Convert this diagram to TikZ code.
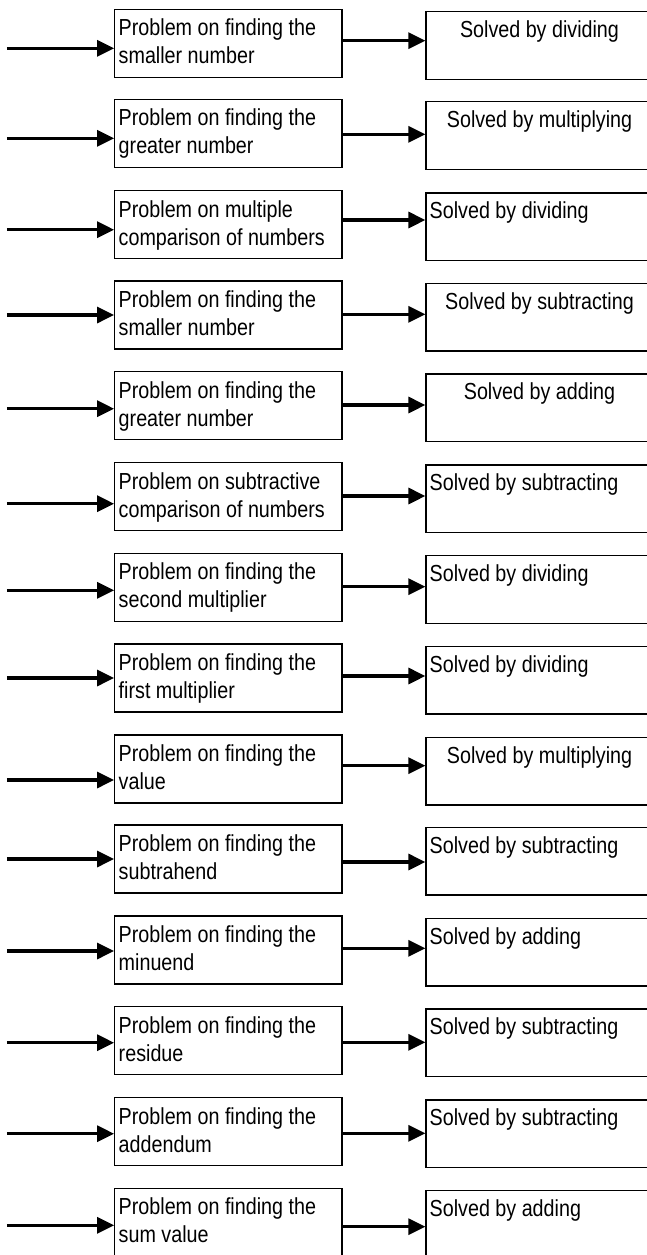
\documentclass[tikz,border=0pt]{standalone}
\usepackage{fontspec}
\setmainfont{Liberation Sans}[FakeStretch=0.85]
\usetikzlibrary{arrows.meta, positioning, calc}

\begin{document}
\begin{tikzpicture}[
    problem/.style={rectangle, draw, line width=0.7pt, minimum width=4.546cm, minimum height=1.36cm, inner sep=0pt},
    solution/.style={rectangle, draw, line width=0.7pt, minimum width=4.54cm, minimum height=1.354cm, inner sep=0pt},
    ptext/.style={anchor=north west, inner sep=0pt, align=left, font=\fontsize{13.2pt}{15.9pt}\selectfont},
    stext/.style={inner sep=0pt, font=\fontsize{13.2pt}{15.9pt}\selectfont},
    arrow/.style={line width=1.8pt, -{Triangle[length=0.34cm, width=0.32cm]}}
]
\useasboundingbox (0,0) rectangle (12.92,-25.1);

% Problem boxes
\node[problem] (lb1) at (4.567, -0.866) {};
\node[problem] (lb2) at (4.567, -2.666) {};
\node[problem] (lb3) at (4.567, -4.494) {};
\node[problem] (lb4) at (4.567, -6.300) {};
\node[problem] (lb5) at (4.567, -8.114) {};
\node[problem] (lb6) at (4.567, -9.934) {};
\node[problem] (lb7) at (4.567, -11.746) {};
\node[problem] (lb8) at (4.567, -13.560) {};
\node[problem] (lb9) at (4.567, -15.380) {};
\node[problem] (lb10) at (4.567, -17.180) {};
\node[problem] (lb11) at (4.567, -19.000) {};
\node[problem] (lb12) at (4.567, -20.814) {};
\node[problem] (lb13) at (4.567, -22.634) {};
\node[problem] (lb14) at (4.567, -24.446) {};

% Problem texts
\node[ptext] (lt1) at ([xshift=0.086cm, yshift=-0.142cm] lb1.north west) {\strut Problem on finding the\\smaller number\strut};
\node[ptext] (lt2) at ([xshift=0.086cm, yshift=-0.142cm] lb2.north west) {\strut Problem on finding the\\greater number\strut};
\node[ptext] (lt3) at ([xshift=0.086cm, yshift=-0.142cm] lb3.north west) {\strut Problem on multiple\\comparison of numbers\strut};
\node[ptext] (lt4) at ([xshift=0.086cm, yshift=-0.142cm] lb4.north west) {\strut Problem on finding the\\smaller number\strut};
\node[ptext] (lt5) at ([xshift=0.086cm, yshift=-0.142cm] lb5.north west) {\strut Problem on finding the\\greater number\strut};
\node[ptext] (lt6) at ([xshift=0.086cm, yshift=-0.142cm] lb6.north west) {\strut Problem on subtractive\\comparison of numbers\strut};
\node[ptext] (lt7) at ([xshift=0.086cm, yshift=-0.142cm] lb7.north west) {\strut Problem on finding the\\second multiplier\strut};
\node[ptext] (lt8) at ([xshift=0.086cm, yshift=-0.142cm] lb8.north west) {\strut Problem on finding the\\first multiplier\strut};
\node[ptext] (lt9) at ([xshift=0.086cm, yshift=-0.142cm] lb9.north west) {\strut Problem on finding the\\value\strut};
\node[ptext] (lt10) at ([xshift=0.086cm, yshift=-0.142cm] lb10.north west) {\strut Problem on finding the\\subtrahend\strut};
\node[ptext] (lt11) at ([xshift=0.086cm, yshift=-0.142cm] lb11.north west) {\strut Problem on finding the\\minuend\strut};
\node[ptext] (lt12) at ([xshift=0.086cm, yshift=-0.142cm] lb12.north west) {\strut Problem on finding the\\residue\strut};
\node[ptext] (lt13) at ([xshift=0.086cm, yshift=-0.142cm] lb13.north west) {\strut Problem on finding the\\addendum\strut};
\node[ptext] (lt14) at ([xshift=0.086cm, yshift=-0.142cm] lb14.north west) {\strut Problem on finding the\\sum value\strut};

% Solution boxes
\node[solution] (rb1) at (10.79, -0.909) {};
\node[solution] (rb2) at (10.79, -2.709) {};
\node[solution] (rb3) at (10.79, -4.537) {};
\node[solution] (rb4) at (10.79, -6.343) {};
\node[solution] (rb5) at (10.79, -8.157) {};
\node[solution] (rb6) at (10.79, -9.977) {};
\node[solution] (rb7) at (10.79, -11.789) {};
\node[solution] (rb8) at (10.79, -13.603) {};
\node[solution] (rb9) at (10.79, -15.423) {};
\node[solution] (rb10) at (10.79, -17.223) {};
\node[solution] (rb11) at (10.79, -19.043) {};
\node[solution] (rb12) at (10.79, -20.857) {};
\node[solution] (rb13) at (10.79, -22.677) {};
\node[solution] (rb14) at (10.79, -24.489) {};

% Solution texts
\node[stext, anchor=base] (rt1) at ([yshift=-0.53cm] rb1.north) {Solved by dividing};
\node[stext, anchor=base] (rt2) at ([yshift=-0.53cm] rb2.north) {Solved by multiplying};
\node[stext, anchor=base west] (rt3) at ([xshift=0.08cm, yshift=-0.53cm] rb3.north west) {Solved by dividing};
\node[stext, anchor=base] (rt4) at ([yshift=-0.53cm] rb4.north) {Solved by subtracting};
\node[stext, anchor=base] (rt5) at ([yshift=-0.53cm] rb5.north) {Solved by adding};
\node[stext, anchor=base west] (rt6) at ([xshift=0.08cm, yshift=-0.53cm] rb6.north west) {Solved by subtracting};
\node[stext, anchor=base west] (rt7) at ([xshift=0.08cm, yshift=-0.53cm] rb7.north west) {Solved by dividing};
\node[stext, anchor=base west] (rt8) at ([xshift=0.08cm, yshift=-0.53cm] rb8.north west) {Solved by dividing};
\node[stext, anchor=base] (rt9) at ([yshift=-0.53cm] rb9.north) {Solved by multiplying};
\node[stext, anchor=base west] (rt10) at ([xshift=0.08cm, yshift=-0.53cm] rb10.north west) {Solved by subtracting};
\node[stext, anchor=base west] (rt11) at ([xshift=0.08cm, yshift=-0.53cm] rb11.north west) {Solved by adding};
\node[stext, anchor=base west] (rt12) at ([xshift=0.08cm, yshift=-0.53cm] rb12.north west) {Solved by subtracting};
\node[stext, anchor=base west] (rt13) at ([xshift=0.08cm, yshift=-0.53cm] rb13.north west) {Solved by subtracting};
\node[stext, anchor=base west] (rt14) at ([xshift=0.08cm, yshift=-0.53cm] rb14.north west) {Solved by adding};

% Incoming arrow starts
\coordinate (in1) at (0.14, -0.966);
\coordinate (in2) at (0.14, -2.766);
\coordinate (in3) at (0.14, -4.594);
\coordinate (in4) at (0.14, -6.300);
\coordinate (in5) at (0.14, -8.174);
\coordinate (in6) at (0.14, -10.074);
\coordinate (in7) at (0.14, -11.806);
\coordinate (in8) at (0.14, -13.560);
\coordinate (in9) at (0.14, -15.600);
\coordinate (in10) at (0.14, -17.180);
\coordinate (in11) at (0.14, -19.020);
\coordinate (in12) at (0.14, -20.854);
\coordinate (in13) at (0.14, -22.674);
\coordinate (in14) at (0.14, -24.506);

% Levels of the middle arrows
\coordinate (m1) at (7.6, -0.814);
\coordinate (m2) at (7.6, -2.686);
\coordinate (m3) at (7.6, -4.400);
\coordinate (m4) at (7.6, -6.286);
\coordinate (m5) at (7.6, -8.100);
\coordinate (m6) at (7.6, -9.920);
\coordinate (m7) at (7.6, -11.734);
\coordinate (m8) at (7.6, -13.520);
\coordinate (m9) at (7.6, -15.314);
\coordinate (m10) at (7.6, -17.240);
\coordinate (m11) at (7.6, -18.966);
\coordinate (m12) at (7.6, -20.846);
\coordinate (m13) at (7.6, -22.666);
\coordinate (m14) at (7.6, -24.534);

% Connections
\draw[arrow] (in1) -- (in1 -| lb1.west);
\draw[arrow] (in2) -- (in2 -| lb2.west);
\draw[arrow] (in3) -- (in3 -| lb3.west);
\draw[arrow] (in4) -- (in4 -| lb4.west);
\draw[arrow] (in5) -- (in5 -| lb5.west);
\draw[arrow] (in6) -- (in6 -| lb6.west);
\draw[arrow] (in7) -- (in7 -| lb7.west);
\draw[arrow] (in8) -- (in8 -| lb8.west);
\draw[arrow] (in9) -- (in9 -| lb9.west);
\draw[arrow] (in10) -- (in10 -| lb10.west);
\draw[arrow] (in11) -- (in11 -| lb11.west);
\draw[arrow] (in12) -- (in12 -| lb12.west);
\draw[arrow] (in13) -- (in13 -| lb13.west);
\draw[arrow] (in14) -- (in14 -| lb14.west);

\draw[arrow] (lb1.east |- m1) -- (rb1.west |- m1);
\draw[arrow] (lb2.east |- m2) -- (rb2.west |- m2);
\draw[arrow] (lb3.east |- m3) -- (rb3.west |- m3);
\draw[arrow] (lb4.east |- m4) -- (rb4.west |- m4);
\draw[arrow] (lb5.east |- m5) -- (rb5.west |- m5);
\draw[arrow] (lb6.east |- m6) -- (rb6.west |- m6);
\draw[arrow] (lb7.east |- m7) -- (rb7.west |- m7);
\draw[arrow] (lb8.east |- m8) -- (rb8.west |- m8);
\draw[arrow] (lb9.east |- m9) -- (rb9.west |- m9);
\draw[arrow] (lb10.east |- m10) -- (rb10.west |- m10);
\draw[arrow] (lb11.east |- m11) -- (rb11.west |- m11);
\draw[arrow] (lb12.east |- m12) -- (rb12.west |- m12);
\draw[arrow] (lb13.east |- m13) -- (rb13.west |- m13);
\draw[arrow] (lb14.east |- m14) -- (rb14.west |- m14);
\end{tikzpicture}
\end{document}
